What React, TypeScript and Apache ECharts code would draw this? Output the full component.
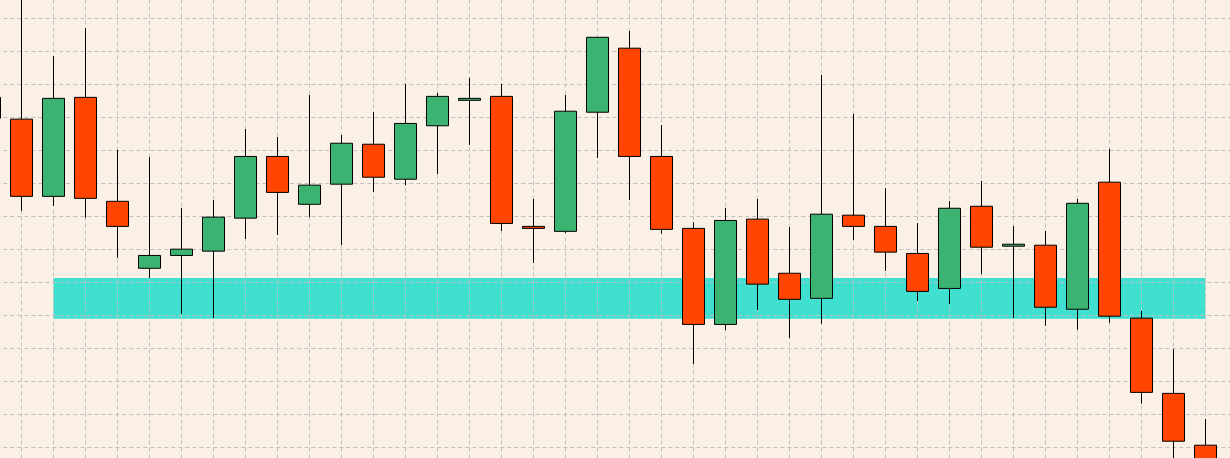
import React, { useEffect, useRef } from "react";
import * as echarts from "echarts";

const categories = [
  "B00", "B01", "B02", "B03", "B04", "B05", "B06", "B07", "B08", "B09",
  "B10", "B11", "B12", "B13", "B14", "B15", "B16", "B17", "B18", "B19",
  "B20", "B21", "B22", "B23", "B24", "B25", "B26", "B27", "B28", "B29",
  "B30", "B31", "B32", "B33", "B34", "B35", "B36", "B37", "B38", "B39",
];

const opens = [
  1406.1, 1399.5, 1376.1, 1406.1, 1374.6, 1354.3, 1358.2, 1359.5, 1369.5, 1388.2,
  1373.7, 1379.8, 1391.9, 1381.3, 1397.5, 1405.2, 1406.4, 1367.0, 1365.5, 1401.6,
  1421.0, 1388.2, 1366.4, 1337.3, 1369.2, 1352.8, 1345.2, 1370.4, 1367.0, 1358.8,
  1348.2, 1373.1, 1361.0, 1361.3, 1341.9, 1380.4, 1339.2, 1316.4, 1300.7,
];
const closes = [
  1399.8, 1376.1, 1405.8, 1375.5, 1367.0, 1358.2, 1360.1, 1369.8, 1388.2, 1377.3,
  1379.5, 1392.2, 1381.9, 1398.2, 1406.4, 1405.8, 1367.9, 1366.4, 1401.9, 1424.3,
  1388.2, 1366.1, 1337.3, 1368.8, 1349.5, 1344.9, 1370.7, 1367.0, 1359.2, 1347.3,
  1372.5, 1360.7, 1361.6, 1342.5, 1374.0, 1339.8, 1316.7, 1301.9, 1290.2,
];
const lows = [
  1398.0, 1371.7, 1373.2, 1369.6, 1357.5, 1351.4, 1340.5, 1339.3, 1363.2, 1364.4,
  1369.8, 1361.4, 1377.4, 1379.5, 1382.9, 1391.7, 1365.6, 1355.9, 1365.0, 1387.7,
  1375.0, 1364.8, 1325.3, 1335.6, 1341.7, 1333.2, 1337.5, 1362.9, 1353.5, 1344.4,
  1343.5, 1352.6, 1339.3, 1336.9, 1335.7, 1337.8, 1313.3, 1294.7, 1287.1,
];
const highs = [
  1408.0, 1437.1, 1418.6, 1427.1, 1390.2, 1388.0, 1372.6, 1375.0, 1396.5, 1394.1,
  1406.8, 1394.7, 1401.7, 1410.2, 1407.4, 1412.0, 1410.2, 1375.3, 1406.8, 1424.3,
  1426.2, 1397.7, 1368.3, 1372.6, 1375.3, 1366.8, 1412.9, 1401.1, 1378.6, 1368.0,
  1374.7, 1380.8, 1367.1, 1365.6, 1375.3, 1390.5, 1341.4, 1329.8, 1308.6,
];

// zone band: from category, to category, lower price, upper price
const bandFrom = ["B02"];
const bandTo = ["B38"];
const bandLow = [1339.0];
const bandHigh = [1351.4];

export default function App() {
  const ref = useRef<HTMLDivElement>(null);

  useEffect(() => {
    if (!ref.current) return;
    const chart = echarts.init(ref.current, undefined, { renderer: "svg" });

    const candleData = opens.map((o, i) => [o, closes[i], lows[i], highs[i]]);
    const bandData = bandFrom.map((f, i) => [
      categories.indexOf(f),
      categories.indexOf(bandTo[i]),
      bandLow[i],
      bandHigh[i],
    ]);

    chart.setOption({
      animation: false,
      backgroundColor: "#FAF0E6",
      grid: { left: 0.33, right: 11.67, top: 0.5, bottom: 14.5, containLabel: false },
      xAxis: {
        type: "category",
        data: categories,
        boundaryGap: false,
        z: 1,
        axisLine: { show: false },
        axisTick: { show: false },
        axisLabel: { show: false },
        splitLine: {
          show: true,
          interval: 0,
          lineStyle: { color: "#c0c0c0", width: 1, type: [4, 3] },
        },
      },
      yAxis: {
        type: "value",
        min: 1290,
        max: 1440,
        interval: 10,
        z: 1,
        axisLine: { show: false },
        axisTick: { show: false },
        axisLabel: { show: false },
        splitLine: {
          show: true,
          lineStyle: { color: "#c0c0c0", width: 1, type: [4, 3] },
        },
      },
      series: [
        {
          type: "custom",
          z: 0,
          clip: false,
          silent: true,
          data: bandData,
          encode: { x: [0, 1], y: [2, 3] },
          renderItem: (params: any, api: any) => {
            const p0 = api.coord([api.value(0), api.value(3)]);
            const p1 = api.coord([api.value(1), api.value(2)]);
            return {
              type: "rect",
              shape: { x: p0[0], y: p0[1], width: p1[0] - p0[0], height: p1[1] - p0[1] },
              style: { fill: "#40E0D0" },
            };
          },
        },
        {
          type: "candlestick",
          z: 2,
          clip: false,
          barWidth: 23,
          data: candleData,
          itemStyle: {
            color: "#3CB371",
            color0: "#FF4500",
            borderColor: "#000000",
            borderColor0: "#000000",
            borderColorDoji: "#000000",
            borderWidth: 1,
          },
        },
      ],
    });

    return () => chart.dispose();
  }, []);

  return (
    <div
      style={{
        position: "fixed",
        left: 0,
        top: 0,
        width: 1230,
        height: 458,
        overflow: "hidden",
        background: "#FAF0E6",
      }}
    >
      <div
        ref={ref}
        style={{ position: "absolute", left: -11, top: -15, width: 1260, height: 510 }}
      />
    </div>
  );
}
